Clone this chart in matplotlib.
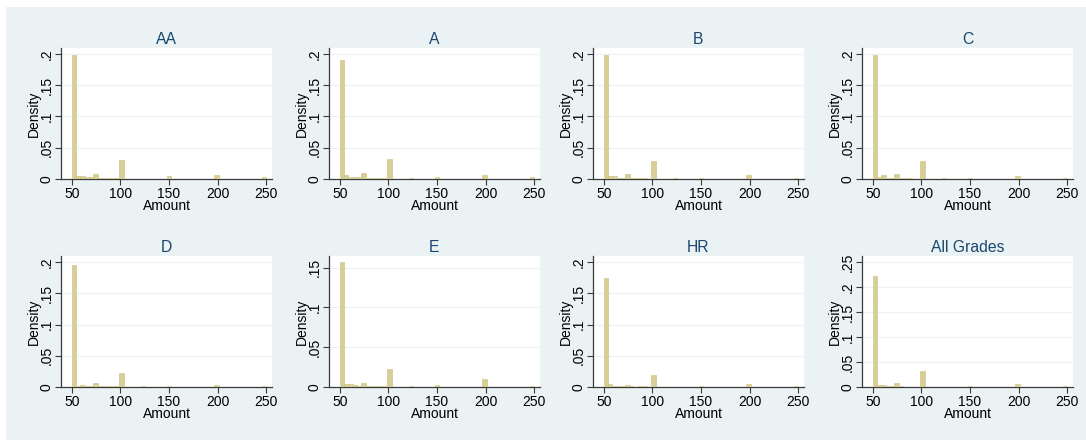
import numpy as np
import matplotlib
matplotlib.use("Agg")
import matplotlib.pyplot as plt
from matplotlib.patches import Rectangle

plt.rcParams['font.family'] = ['Liberation Sans', 'DejaVu Sans']

# ---------------- data ----------------
titles = ["AA", "A", "B", "C", "D", "E", "HR", "All Grades"]
amount_min, amount_max, n_bins = 50, 250, 45
xticks = [50, 100, 150, 200, 250]

def bins(d):
    h = [0.0] * n_bins
    for k, v in d.items():
        h[k] = v
    return h

# density per bin (bin index -> density)
dens_AA = bins({0: .199, 1: .0048, 2: .004, 3: .0027, 4: .0027, 5: .0085, 6: .002, 7: .0012,
                8: .0012, 9: .0012, 10: .0012, 11: .031, 22: .004, 33: .006, 44: .003})
dens_A = bins({0: .190, 1: .006, 2: .003, 3: .003, 4: .003, 5: .009, 6: .002, 7: .002,
               8: .001, 9: .001, 10: .001, 11: .032, 16: .001, 22: .0027, 33: .006, 44: .003})
dens_B = bins({0: .199, 1: .005, 2: .005, 3: .002, 4: .002, 5: .008, 6: .002, 7: .001,
               8: .001, 9: .001, 11: .029, 16: .001, 22: .002, 33: .006, 44: .002})
dens_C = bins({0: .199, 1: .003, 2: .006, 3: .002, 4: .002, 5: .0075, 6: .001, 7: .001,
               8: .001, 11: .028, 16: .001, 22: .002, 33: .0043, 44: .0015})
dens_D = bins({0: .195, 1: .002, 2: .004, 3: .001, 4: .001, 5: .006, 6: .002, 7: .001,
               8: .001, 9: .001, 10: .001, 11: .023, 16: .001, 22: .002, 33: .004, 44: .001})
dens_E = bins({0: .157, 1: .0042, 2: .0035, 3: .002, 4: .0015, 5: .005, 6: .0015, 7: .0015,
               8: .0015, 9: .0015, 10: .0015, 11: .022, 16: .0015, 22: .0025, 33: .0095, 44: .001})
dens_HR = bins({0: .175, 1: .0043, 2: .002, 3: .002, 4: .002, 5: .003, 6: .002, 8: .002,
                9: .001, 11: .019, 22: .0015, 33: .0048, 44: .002})
dens_All = bins({0: .223, 1: .004, 2: .005, 3: .002, 4: .002, 5: .008, 6: .002, 7: .001,
                 11: .033, 22: .003, 33: .006, 44: .002})

densities = [dens_AA, dens_A, dens_B, dens_C, dens_D, dens_E, dens_HR, dens_All]

yticks_std = [0, .05, .1, .15, .2]
yticks_E = [0, .05, .1, .15]
yticks_All = [0, .05, .1, .15, .2, .25]
yticks_list = [yticks_std] * 5 + [yticks_E] + [yticks_std] + [yticks_All]

def fmt(v):
    if v == 0:
        return "0"
    s = ("%g" % v)
    return s.lstrip("0")

# ---------------- figure ----------------
W, H = 1086, 440
fig = plt.figure(figsize=(W / 100, H / 100), dpi=100, facecolor='white')
bgc = '#eaf2f3'
fig.patches.append(Rectangle((6 / W, 0), 1 - 6 / W, 1 - 7 / H, transform=fig.transFigure,
                             facecolor=bgc, edgecolor='none', zorder=-10))

col_left = [61, 329, 593, 862]
row_top = [48, 256]
ax_w, ax_h = 211, 131

edges = np.linspace(amount_min, amount_max, n_bins + 1)
bw = edges[1] - edges[0]
title_col = '#1a476f'
axis_col = '#3a3a3a'

for i, (t, d, yt) in enumerate(zip(titles, densities, yticks_list)):
    r, c = divmod(i, 4)
    l = col_left[c]
    top = row_top[r]
    ax = fig.add_axes([l / W, 1 - (top + ax_h) / H, ax_w / W, ax_h / H])
    ax.set_facecolor('white')
    ax.bar(edges[:-1], d, width=bw, align='edge', color='#d8cf96',
           edgecolor='#c9bd7c', linewidth=0.4, zorder=3)
    ymax = max(max(d), yt[-1]) * 1.048
    ax.set_ylim(0, ymax)
    ax.set_xlim(39, 256)
    ax.set_yticks(yt)
    ax.set_yticklabels([fmt(v) for v in yt])
    ax.set_xticks(xticks)
    ax.set_xticklabels([str(v) for v in xticks])
    for v in yt[1:]:
        ax.axhline(v, color='#edf3f4', lw=1.0, zorder=1)
    for s in ['top', 'right']:
        ax.spines[s].set_visible(False)
    for s in ['left', 'bottom']:
        ax.spines[s].set_color(axis_col)
        ax.spines[s].set_linewidth(0.9)
    ax.tick_params(axis='y', labelrotation=90, length=4, width=0.8, color=axis_col,
                   labelsize=10, pad=1.5)
    for lab in ax.get_yticklabels():
        lab.set_verticalalignment('center')
    ax.tick_params(axis='x', length=4, width=0.8, color=axis_col, labelsize=10, pad=1.5)
    ax.set_xlabel("Amount", fontsize=10, labelpad=-1)
    ax.set_ylabel("Density", fontsize=10, labelpad=-1)
    ax.set_title(t, fontsize=11.3, color=title_col, pad=3)

fig.savefig("out.png", dpi=100, facecolor='white')
